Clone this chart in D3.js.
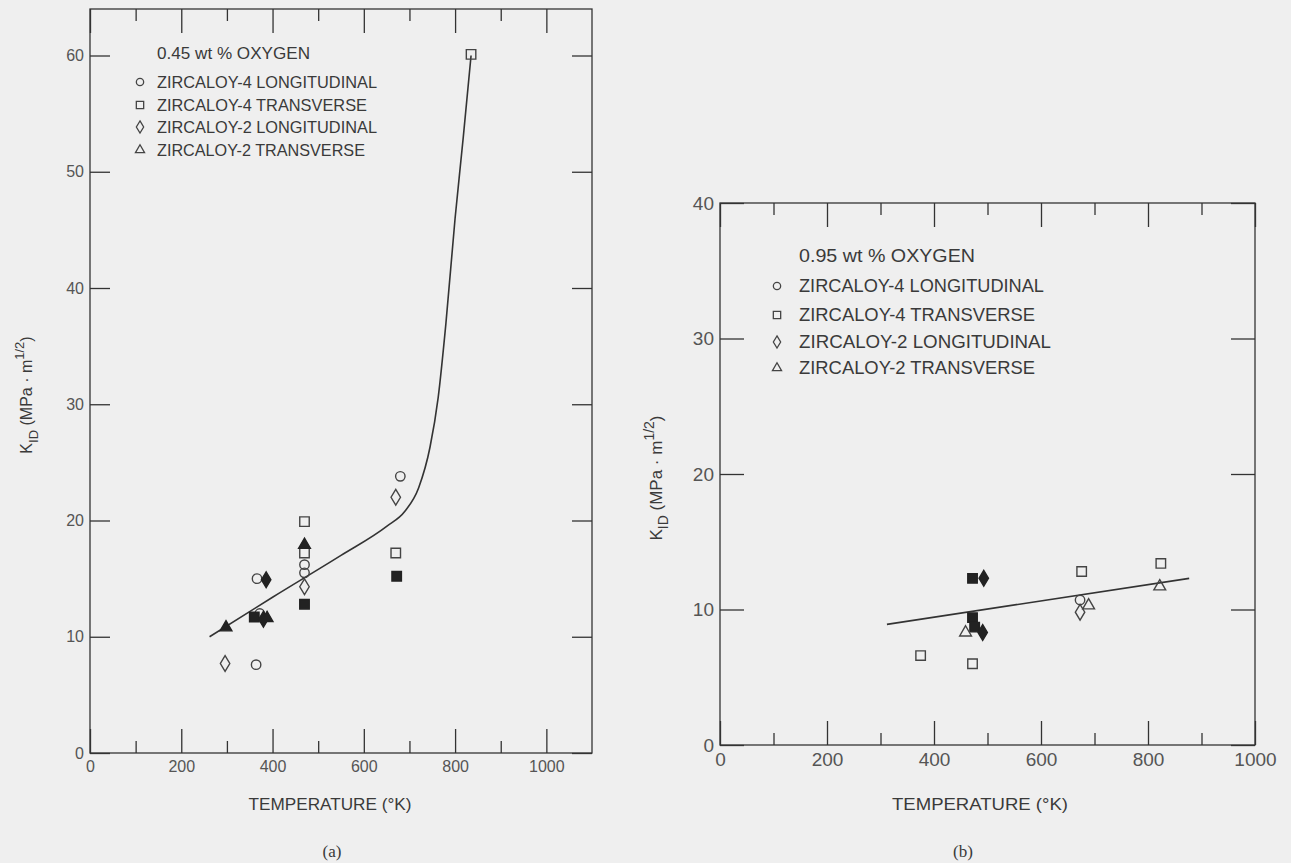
<!DOCTYPE html>
<html>
<head>
<meta charset="utf-8">
<script src="https://cdn.jsdelivr.net/npm/d3@7"></script>
<style>
  body { margin: 0; background: #efefef; }
  text { font-family: 'Liberation Sans', Arial, sans-serif; fill: #3a3a3a; }
</style>
</head>
<body>
<script>
const seriesNames = ['ZIRCALOY-4 LONGITUDINAL', 'ZIRCALOY-4 TRANSVERSE', 'ZIRCALOY-2 LONGITUDINAL', 'ZIRCALOY-2 TRANSVERSE']
const xTicksMajor = [0, 200, 400, 600, 800, 1000]
const xTicksMinor = [100, 300, 500, 700, 900]
const yTicksA = [0, 10, 20, 30, 40, 50, 60]
const yTicksB = [0, 10, 20, 30, 40]

// panel (a): 0.45 wt % oxygen, [temperature K, K_ID]
const a_z4LongOpen = [[366, 15.0], [372, 12.0], [470, 16.2], [470, 15.5], [680, 23.8], [364, 7.6]]
const a_z4TransOpen = [[470, 19.9], [470, 17.2], [670, 17.2], [835, 60.1]]
const a_z4TransFilled = [[360, 11.7], [470, 12.8], [672, 15.2]]
const a_z2LongOpen = [[296, 7.7], [470, 14.3], [670, 22.0]]
const a_z2LongFilled = [[386, 14.9], [380, 11.5]]
const a_z2TransFilled = [[298, 10.8], [470, 17.9], [388, 11.6]]
const a_curve = [[262, 10.0], [400, 13.4], [550, 17.0], [650, 19.5], [690, 20.8], [720, 22.8], [745, 26.3], [763, 30.6], [780, 37], [800, 46], [818, 53], [835, 60]]

// panel (b): 0.95 wt % oxygen
const b_z4LongOpen = [[673, 10.7]]
const b_z4TransOpen = [[375, 6.6], [472, 6.0], [676, 12.8], [824, 13.4]]
const b_z4TransFilled = [[472, 12.3], [472, 9.4], [476, 8.7]]
const b_z2LongOpen = [[673, 9.8]]
const b_z2LongFilled = [[493, 12.3], [491, 8.3]]
const b_z2TransOpen = [[459, 8.3], [689, 10.3], [822, 11.7]]
const b_line = [[312, 8.9], [877, 12.3]]

const ink = '#333'
const svg = d3.select('body').append('svg')
  .attr('width', 1291)
  .attr('height', 863)
  .style('background-color', '#efefef')

// narrow diamond like the one in the scan
const narrowDiamond = {
  draw (ctx, size) {
    const h = Math.sqrt(size) * 0.75
    const w = h * 0.6
    ctx.moveTo(0, -h); ctx.lineTo(w, 0); ctx.lineTo(0, h); ctx.lineTo(-w, 0); ctx.closePath()
  }
}
const shapes = [d3.symbolCircle, d3.symbolSquare, narrowDiamond, d3.symbolTriangle]
const sizes = [70, 90, 110, 60]

function drawPanel (p) {
  const x = d3.scaleLinear().domain(p.xDomain).range(p.xRange)
  const y = d3.scaleLinear().domain(p.yDomain).range(p.yRange)
  const g = svg.append('g')

  // frame
  g.append('rect')
    .attr('x', p.xRange[0]).attr('y', p.yRange[1])
    .attr('width', p.xRange[1] - p.xRange[0])
    .attr('height', p.yRange[0] - p.yRange[1])
    .style('fill', 'none').style('stroke', ink).style('stroke-width', 1.3)

  const fmt = d3.format('d')
  const axes = [
    [d3.axisBottom(x).tickValues(xTicksMajor).tickSize(-p.major).tickPadding(8).tickFormat(fmt), `translate(0,${p.yRange[0]})`],
    [d3.axisBottom(x).tickValues(xTicksMinor).tickSize(-p.minor).tickFormat(''), `translate(0,${p.yRange[0]})`],
    [d3.axisTop(x).tickValues(xTicksMajor).tickSize(-p.major).tickFormat(''), `translate(0,${p.yRange[1]})`],
    [d3.axisTop(x).tickValues(xTicksMinor).tickSize(-p.minor).tickFormat(''), `translate(0,${p.yRange[1]})`],
    [d3.axisLeft(y).tickValues(p.yTicks).tickSize(-p.yTick).tickPadding(6).tickFormat(fmt), `translate(${p.xRange[0]},0)`],
    [d3.axisRight(y).tickValues(p.yTicks).tickSize(-p.yTick).tickFormat(''), `translate(${p.xRange[1]},0)`]
  ]
  axes.forEach(([ax, tr]) => {
    const a = g.append('g').attr('transform', tr).call(ax)
    a.select('.domain').remove()
    a.selectAll('line').style('stroke', ink).style('stroke-width', 1.3)
    a.selectAll('text').style('font-size', p.tickFont + 'px').style('fill', '#555')
      .style('font-family', "'Liberation Sans', Arial, sans-serif")
  })

  // fitted curve
  g.append('path')
    .datum(p.curve)
    .attr('d', d3.line().x(d => x(d[0])).y(d => y(d[1])).curve(d3.curveMonotoneX))
    .style('fill', 'none').style('stroke', ink).style('stroke-width', 1.6)

  // points
  p.points.forEach(([data, type, filled]) => {
    g.selectAll(null).data(data).enter().append('path')
      .attr('transform', d => `translate(${x(d[0])},${y(d[1])})`)
      .attr('d', d3.symbol().type(shapes[type]).size(sizes[type]))
      .style('fill', filled ? '#222' : 'none')
      .style('stroke', filled ? '#222' : '#444')
      .style('stroke-width', 1.4)
  })

  // legend
  g.append('text')
    .attr('x', p.legX + p.legDx).attr('y', p.legY[0])
    .attr('dominant-baseline', 'central')
    .attr('textLength', p.legTitleLen).attr('lengthAdjust', 'spacingAndGlyphs')
    .style('font-size', p.legFont + 'px')
    .text(p.title)
  seriesNames.forEach((name, i) => {
    g.append('path')
      .attr('transform', `translate(${p.legX},${p.legY[i + 1]})`)
      .attr('d', d3.symbol().type(shapes[i]).size(sizes[i] * 0.6))
      .style('fill', 'none').style('stroke', '#444').style('stroke-width', 1.3)
    g.append('text')
      .attr('x', p.legX + p.legDx).attr('y', p.legY[i + 1])
      .attr('dominant-baseline', 'central')
      .attr('textLength', p.legLens[i]).attr('lengthAdjust', 'spacingAndGlyphs')
      .style('font-size', p.legFont + 'px')
      .text(name)
  })

  // x axis title
  g.append('text')
    .attr('x', p.xTitle[0]).attr('y', p.xTitle[1])
    .attr('text-anchor', 'middle').attr('dominant-baseline', 'central')
    .attr('textLength', p.xTitleLen).attr('lengthAdjust', 'spacingAndGlyphs')
    .style('font-size', '17px')
    .text('TEMPERATURE (°K)')

  // y axis title
  const yt = g.append('text')
    .attr('transform', `translate(${p.yTitle[0]},${p.yTitle[1]}) rotate(-90)`)
    .attr('text-anchor', 'middle')
    .style('font-size', p.yTitleFont + 'px')
  yt.append('tspan').text('K')
  yt.append('tspan').attr('dy', 6).style('font-size', (p.yTitleFont - 3) + 'px').text('ID')
  yt.append('tspan').attr('dy', -6).text(' (MPa · m')
  yt.append('tspan').attr('dy', -8).style('font-size', (p.yTitleFont - 3) + 'px').text('1/2')
  yt.append('tspan').attr('dy', 8).text(')')

  // panel caption
  g.append('text')
    .attr('x', p.caption[0]).attr('y', p.caption[1])
    .attr('text-anchor', 'middle')
    .style('font-family', "'Liberation Serif', serif").style('font-size', '17px')
    .text(p.captionText)
}

drawPanel({
  xDomain: [0, 1100], xRange: [90, 592],
  yDomain: [0, 64], yRange: [753, 9],
  yTicks: yTicksA, major: 24, minor: 12, yTick: 20, tickFont: 16,
  curve: a_curve,
  points: [
    [a_z4LongOpen, 0, false], [a_z4TransOpen, 1, false], [a_z4TransFilled, 1, true],
    [a_z2LongOpen, 2, false], [a_z2LongFilled, 2, true], [a_z2TransFilled, 3, true]
  ],
  title: '0.45 wt % OXYGEN', legX: 140, legDx: 17, legY: [53, 82, 105, 127, 150],
  legFont: 17, legTitleLen: 153, legLens: [220, 210, 220, 208],
  xTitle: [330, 804], xTitleLen: 163,
  yTitle: [32, 395], yTitleFont: 16,
  caption: [332, 857], captionText: '(a)'
})

drawPanel({
  xDomain: [0, 1000], xRange: [720, 1255],
  yDomain: [0, 40], yRange: [745, 203],
  yTicks: yTicksB, major: 24, minor: 12, yTick: 24, tickFont: 19,
  curve: b_line,
  points: [
    [b_z4LongOpen, 0, false], [b_z4TransOpen, 1, false], [b_z4TransFilled, 1, true],
    [b_z2LongOpen, 2, false], [b_z2LongFilled, 2, true], [b_z2TransOpen, 3, false]
  ],
  title: '0.95 wt % OXYGEN', legX: 777, legDx: 22, legY: [256, 286, 315, 342, 368],
  legFont: 18, legTitleLen: 176, legLens: [245, 236, 252, 236],
  xTitle: [980, 804], xTitleLen: 176,
  yTitle: [662, 478], yTitleFont: 17,
  caption: [963, 857], captionText: '(b)'
})
</script>
</body>
</html>
